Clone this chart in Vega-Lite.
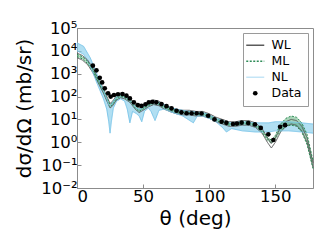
{
  "$schema": "https://vega.github.io/schema/vega-lite/v6.json",
  "width": 236,
  "height": 160,
  "autosize": "none",
  "padding": {"left": 77, "top": 28, "right": 19, "bottom": 61},
  "config": {
    "font": "DejaVu Sans",
    "view": {"stroke": "#8c8c8c", "strokeWidth": 1},
    "axis": {"grid": false, "domainColor": "#8c8c8c", "tickColor": "#8c8c8c", "labelColor": "black", "titleColor": "black", "labelFont": "DejaVu Sans", "titleFont": "DejaVu Sans", "titleFontWeight": "normal", "labelFontSize": 16.5, "titleFontSize": 20}
  },
  "datasets": {
    "bands": [
      {"model": "WL", "theta": 0, "lo": 5010, "hi": 7940},
      {"model": "WL", "theta": 4, "lo": 3980, "hi": 6310},
      {"model": "WL", "theta": 8, "lo": 2510, "hi": 3980},
      {"model": "WL", "theta": 12, "lo": 1120, "hi": 1780},
      {"model": "WL", "theta": 16, "lo": 398, "hi": 631},
      {"model": "WL", "theta": 20, "lo": 141, "hi": 224},
      {"model": "WL", "theta": 23, "lo": 56.2, "hi": 89.1},
      {"model": "WL", "theta": 25, "lo": 31.6, "hi": 50.1},
      {"model": "WL", "theta": 27, "lo": 39.8, "hi": 63.1},
      {"model": "WL", "theta": 30, "lo": 70.8, "hi": 112},
      {"model": "WL", "theta": 33, "lo": 89.1, "hi": 141},
      {"model": "WL", "theta": 36, "lo": 79.4, "hi": 126},
      {"model": "WL", "theta": 40, "lo": 56.2, "hi": 89.1},
      {"model": "WL", "theta": 44, "lo": 28.2, "hi": 44.7},
      {"model": "WL", "theta": 47, "lo": 20.0, "hi": 31.6},
      {"model": "WL", "theta": 50, "lo": 25.1, "hi": 39.8},
      {"model": "WL", "theta": 54, "lo": 35.5, "hi": 56.2},
      {"model": "WL", "theta": 58, "lo": 44.7, "hi": 70.8},
      {"model": "WL", "theta": 62, "lo": 39.8, "hi": 63.1},
      {"model": "WL", "theta": 66, "lo": 28.2, "hi": 44.7},
      {"model": "WL", "theta": 70, "lo": 22.4, "hi": 35.5},
      {"model": "WL", "theta": 75, "lo": 17.8, "hi": 28.2},
      {"model": "WL", "theta": 80, "lo": 15.8, "hi": 25.1},
      {"model": "WL", "theta": 85, "lo": 15.8, "hi": 25.1},
      {"model": "WL", "theta": 90, "lo": 14.1, "hi": 22.4},
      {"model": "WL", "theta": 95, "lo": 14.1, "hi": 22.4},
      {"model": "WL", "theta": 100, "lo": 11.2, "hi": 17.8},
      {"model": "WL", "theta": 105, "lo": 7.94, "hi": 12.6},
      {"model": "WL", "theta": 110, "lo": 6.31, "hi": 10.0},
      {"model": "WL", "theta": 115, "lo": 5.01, "hi": 7.94},
      {"model": "WL", "theta": 120, "lo": 5.01, "hi": 7.94},
      {"model": "WL", "theta": 125, "lo": 5.62, "hi": 8.91},
      {"model": "WL", "theta": 130, "lo": 5.62, "hi": 8.91},
      {"model": "WL", "theta": 135, "lo": 4.47, "hi": 7.08},
      {"model": "WL", "theta": 140, "lo": 2.51, "hi": 3.98},
      {"model": "WL", "theta": 144, "lo": 1.0, "hi": 1.58},
      {"model": "WL", "theta": 147, "lo": 0.562, "hi": 0.891},
      {"model": "WL", "theta": 150, "lo": 1.0, "hi": 1.58},
      {"model": "WL", "theta": 154, "lo": 2.82, "hi": 4.47},
      {"model": "WL", "theta": 158, "lo": 5.01, "hi": 7.94},
      {"model": "WL", "theta": 162, "lo": 6.31, "hi": 10.0},
      {"model": "WL", "theta": 166, "lo": 5.62, "hi": 8.91},
      {"model": "WL", "theta": 170, "lo": 3.16, "hi": 5.01},
      {"model": "WL", "theta": 174, "lo": 1.0, "hi": 1.58},
      {"model": "WL", "theta": 178.5, "lo": 0.0794, "hi": 0.126},
      {"model": "ML", "theta": 0, "lo": 5620, "hi": 7080},
      {"model": "ML", "theta": 4, "lo": 4470, "hi": 5620},
      {"model": "ML", "theta": 8, "lo": 2820, "hi": 3550},
      {"model": "ML", "theta": 12, "lo": 1260, "hi": 1580},
      {"model": "ML", "theta": 16, "lo": 447, "hi": 562},
      {"model": "ML", "theta": 20, "lo": 158, "hi": 200},
      {"model": "ML", "theta": 23, "lo": 63.1, "hi": 79.4},
      {"model": "ML", "theta": 25, "lo": 35.5, "hi": 44.7},
      {"model": "ML", "theta": 27, "lo": 44.7, "hi": 56.2},
      {"model": "ML", "theta": 30, "lo": 79.4, "hi": 100},
      {"model": "ML", "theta": 33, "lo": 100, "hi": 126},
      {"model": "ML", "theta": 36, "lo": 89.1, "hi": 112},
      {"model": "ML", "theta": 40, "lo": 63.1, "hi": 79.4},
      {"model": "ML", "theta": 44, "lo": 31.6, "hi": 39.8},
      {"model": "ML", "theta": 47, "lo": 22.4, "hi": 28.2},
      {"model": "ML", "theta": 50, "lo": 28.2, "hi": 35.5},
      {"model": "ML", "theta": 54, "lo": 39.8, "hi": 50.1},
      {"model": "ML", "theta": 58, "lo": 50.1, "hi": 63.1},
      {"model": "ML", "theta": 62, "lo": 44.7, "hi": 56.2},
      {"model": "ML", "theta": 66, "lo": 31.6, "hi": 39.8},
      {"model": "ML", "theta": 70, "lo": 25.1, "hi": 31.6},
      {"model": "ML", "theta": 75, "lo": 20.0, "hi": 25.1},
      {"model": "ML", "theta": 80, "lo": 17.8, "hi": 22.4},
      {"model": "ML", "theta": 85, "lo": 17.8, "hi": 22.4},
      {"model": "ML", "theta": 90, "lo": 15.8, "hi": 20.0},
      {"model": "ML", "theta": 95, "lo": 15.8, "hi": 20.0},
      {"model": "ML", "theta": 100, "lo": 12.6, "hi": 15.8},
      {"model": "ML", "theta": 105, "lo": 8.91, "hi": 11.2},
      {"model": "ML", "theta": 110, "lo": 7.08, "hi": 8.91},
      {"model": "ML", "theta": 115, "lo": 5.62, "hi": 7.08},
      {"model": "ML", "theta": 120, "lo": 5.62, "hi": 7.08},
      {"model": "ML", "theta": 125, "lo": 6.31, "hi": 7.94},
      {"model": "ML", "theta": 130, "lo": 6.31, "hi": 7.94},
      {"model": "ML", "theta": 135, "lo": 5.01, "hi": 6.31},
      {"model": "ML", "theta": 140, "lo": 2.82, "hi": 3.55},
      {"model": "ML", "theta": 144, "lo": 1.26, "hi": 1.58},
      {"model": "ML", "theta": 147, "lo": 0.891, "hi": 1.26},
      {"model": "ML", "theta": 150, "lo": 1.41, "hi": 2.0},
      {"model": "ML", "theta": 154, "lo": 3.16, "hi": 6.31},
      {"model": "ML", "theta": 158, "lo": 5.01, "hi": 11.2},
      {"model": "ML", "theta": 162, "lo": 5.62, "hi": 14.1},
      {"model": "ML", "theta": 166, "lo": 5.01, "hi": 12.6},
      {"model": "ML", "theta": 170, "lo": 2.82, "hi": 7.08},
      {"model": "ML", "theta": 174, "lo": 0.794, "hi": 2.24},
      {"model": "ML", "theta": 178.5, "lo": 0.0708, "hi": 0.158},
      {"model": "NL", "theta": 0, "lo": 10000, "hi": 22400},
      {"model": "NL", "theta": 5, "lo": 7080, "hi": 15800},
      {"model": "NL", "theta": 10, "lo": 2240, "hi": 5010},
      {"model": "NL", "theta": 15, "lo": 398, "hi": 1000},
      {"model": "NL", "theta": 20, "lo": 79.4, "hi": 178},
      {"model": "NL", "theta": 22.5, "lo": 28.2, "hi": 79.4},
      {"model": "NL", "theta": 24, "lo": 7.94, "hi": 44.7},
      {"model": "NL", "theta": 25, "lo": 2.51, "hi": 39.8},
      {"model": "NL", "theta": 26, "lo": 7.94, "hi": 44.7},
      {"model": "NL", "theta": 27.5, "lo": 31.6, "hi": 63.1},
      {"model": "NL", "theta": 30, "lo": 63.1, "hi": 100},
      {"model": "NL", "theta": 33, "lo": 79.4, "hi": 126},
      {"model": "NL", "theta": 36, "lo": 63.1, "hi": 112},
      {"model": "NL", "theta": 38, "lo": 28.2, "hi": 89.1},
      {"model": "NL", "theta": 40, "lo": 7.08, "hi": 70.8},
      {"model": "NL", "theta": 42, "lo": 22.4, "hi": 50.1},
      {"model": "NL", "theta": 45, "lo": 17.8, "hi": 31.6},
      {"model": "NL", "theta": 47, "lo": 14.1, "hi": 28.2},
      {"model": "NL", "theta": 49, "lo": 7.94, "hi": 31.6},
      {"model": "NL", "theta": 51, "lo": 22.4, "hi": 39.8},
      {"model": "NL", "theta": 54, "lo": 31.6, "hi": 56.2},
      {"model": "NL", "theta": 56, "lo": 22.4, "hi": 63.1},
      {"model": "NL", "theta": 59, "lo": 8.91, "hi": 63.1},
      {"model": "NL", "theta": 62, "lo": 25.1, "hi": 56.2},
      {"model": "NL", "theta": 66, "lo": 28.2, "hi": 44.7},
      {"model": "NL", "theta": 70, "lo": 22.4, "hi": 35.5},
      {"model": "NL", "theta": 75, "lo": 17.8, "hi": 28.2},
      {"model": "NL", "theta": 80, "lo": 14.1, "hi": 25.1},
      {"model": "NL", "theta": 84, "lo": 10, "hi": 22.4},
      {"model": "NL", "theta": 88, "lo": 7.08, "hi": 22.4},
      {"model": "NL", "theta": 91, "lo": 14.1, "hi": 20.0},
      {"model": "NL", "theta": 95, "lo": 14.1, "hi": 20.0},
      {"model": "NL", "theta": 100, "lo": 11.2, "hi": 15.8},
      {"model": "NL", "theta": 105, "lo": 7.94, "hi": 11.2},
      {"model": "NL", "theta": 110, "lo": 4.47, "hi": 8.91},
      {"model": "NL", "theta": 113, "lo": 2.82, "hi": 7.94},
      {"model": "NL", "theta": 117, "lo": 3.98, "hi": 7.08},
      {"model": "NL", "theta": 125, "lo": 3.16, "hi": 7.94},
      {"model": "NL", "theta": 135, "lo": 2.82, "hi": 7.08},
      {"model": "NL", "theta": 145, "lo": 2.82, "hi": 7.08},
      {"model": "NL", "theta": 150, "lo": 3.16, "hi": 7.94},
      {"model": "NL", "theta": 160, "lo": 3.16, "hi": 7.94},
      {"model": "NL", "theta": 170, "lo": 2.82, "hi": 7.08},
      {"model": "NL", "theta": 178.5, "lo": 2.51, "hi": 6.31}
    ],
    "exp": [
      {"model": "Data", "theta": 12, "xs": 2240},
      {"model": "Data", "theta": 14.7, "xs": 1410},
      {"model": "Data", "theta": 17.2, "xs": 661},
      {"model": "Data", "theta": 19, "xs": 417},
      {"model": "Data", "theta": 21, "xs": 229},
      {"model": "Data", "theta": 23.5, "xs": 138},
      {"model": "Data", "theta": 25.5, "xs": 100},
      {"model": "Data", "theta": 28, "xs": 117},
      {"model": "Data", "theta": 31, "xs": 126},
      {"model": "Data", "theta": 34.4, "xs": 129},
      {"model": "Data", "theta": 37.4, "xs": 110},
      {"model": "Data", "theta": 40, "xs": 83.2},
      {"model": "Data", "theta": 43, "xs": 56.2},
      {"model": "Data", "theta": 46, "xs": 42.7},
      {"model": "Data", "theta": 48.8, "xs": 38.9},
      {"model": "Data", "theta": 51.8, "xs": 45.7},
      {"model": "Data", "theta": 54.3, "xs": 56.2},
      {"model": "Data", "theta": 57, "xs": 58.9},
      {"model": "Data", "theta": 60, "xs": 56.2},
      {"model": "Data", "theta": 63.9, "xs": 46.8},
      {"model": "Data", "theta": 67.7, "xs": 38.0},
      {"model": "Data", "theta": 71.5, "xs": 30.2},
      {"model": "Data", "theta": 75.3, "xs": 24.0},
      {"model": "Data", "theta": 79, "xs": 20.4},
      {"model": "Data", "theta": 82.9, "xs": 18.6},
      {"model": "Data", "theta": 86.7, "xs": 18.6},
      {"model": "Data", "theta": 90.5, "xs": 18.6},
      {"model": "Data", "theta": 94.2, "xs": 18.2},
      {"model": "Data", "theta": 99.2, "xs": 14.5},
      {"model": "Data", "theta": 104, "xs": 10.0},
      {"model": "Data", "theta": 109.4, "xs": 7.94},
      {"model": "Data", "theta": 113, "xs": 7.08},
      {"model": "Data", "theta": 118, "xs": 6.31},
      {"model": "Data", "theta": 121, "xs": 6.61},
      {"model": "Data", "theta": 124.5, "xs": 7.24},
      {"model": "Data", "theta": 129.5, "xs": 6.92},
      {"model": "Data", "theta": 134.6, "xs": 6.03},
      {"model": "Data", "theta": 139, "xs": 4.27},
      {"model": "Data", "theta": 144.7, "xs": 2.24},
      {"model": "Data", "theta": 148.5, "xs": 1.26},
      {"model": "Data", "theta": 153.6, "xs": 4.79},
      {"model": "Data", "theta": 157.4, "xs": 5.62}
    ]
  },
  "encoding": {
    "x": {
      "field": "theta", "type": "quantitative",
      "scale": {"domain": [0, 178.5], "nice": false, "zero": false},
      "axis": {"values": [0, 50, 100, 150], "title": "θ (deg)", "tickSize": -4, "labelPadding": 4, "titlePadding": 4}
    }
  },
  "layer": [
    {
      "data": {"name": "bands"},
      "transform": [{"filter": "datum.model === 'NL'"}],
      "mark": {"type": "area", "color": "#87ceeb", "opacity": 0.65},
      "encoding": {
        "y": {"field": "lo", "type": "quantitative",
          "scale": {"type": "log", "domain": [0.01, 100000], "nice": false},
          "axis": {"values": [0.01, 0.1, 1, 10, 100, 1000, 10000, 100000], "title": "dσ/dΩ (mb/sr)", "tickSize": -4, "labelPadding": 4, "titlePadding": 6,
            "labelExpr": "'10' + ['⁻²','⁻¹','⁰','¹','²','³','⁴','⁵'][round(log(datum.value)/LN10) + 2]"}},
        "y2": {"field": "hi"}
      }
    },
    {
      "data": {"name": "bands"},
      "transform": [{"filter": "datum.model === 'ML'"}],
      "mark": {"type": "area", "color": "#3a9d5d", "opacity": 0.45},
      "encoding": {
        "y": {"field": "lo", "type": "quantitative"},
        "y2": {"field": "hi"}
      }
    },
    {
      "data": {"name": "bands"},
      "mark": {"type": "line", "strokeWidth": 1},
      "encoding": {
        "y": {"field": "lo", "type": "quantitative"},
        "color": {"field": "model", "type": "nominal",
          "scale": {"domain": ["WL", "ML", "NL", "Data"], "range": ["#5a5a5a", "#2e8b57", "#7cc6ea", "black"]},
          "legend": {"title": null, "orient": "top-right", "offset": 5, "padding": 6, "strokeColor": "#9a9a9a", "fillColor": "white", "labelFontSize": 12.5, "labelOffset": 10, "rowPadding": 3, "symbolSize": 324,
            "encode": {"symbols": {"update": {
              "shape": {"signal": "datum.value === 'Data' ? 'circle' : 'stroke'"},
              "size": {"signal": "datum.value === 'Data' ? 22 : 324"},
              "strokeDash": {"signal": "datum.value === 'ML' ? [2, 1.5] : [1, 0]"},
              "fill": {"signal": "datum.value === 'Data' ? 'black' : 'transparent'"},
              "fillOpacity": {"value": 1},
              "strokeWidth": {"signal": "datum.value === 'Data' ? 0 : 1.5"},
              "strokeOpacity": {"signal": "datum.value === 'NL' ? 0.45 : 1"}
            }}}}},
        "strokeDash": {"field": "model", "type": "nominal",
          "scale": {"domain": ["WL", "ML", "NL"], "range": [[1, 0], [2, 1.5], [1, 0]]}, "legend": null}
      }
    },
    {
      "data": {"name": "bands"},
      "mark": {"type": "line", "strokeWidth": 1},
      "encoding": {
        "y": {"field": "hi", "type": "quantitative"},
        "color": {"field": "model", "type": "nominal"},
        "strokeDash": {"field": "model", "type": "nominal", "legend": null}
      }
    },
    {
      "data": {"name": "exp"},
      "mark": {"type": "point", "filled": true, "size": 22, "opacity": 1},
      "encoding": {
        "y": {"field": "xs", "type": "quantitative"},
        "color": {"field": "model", "type": "nominal"}
      }
    }
  ]
}
